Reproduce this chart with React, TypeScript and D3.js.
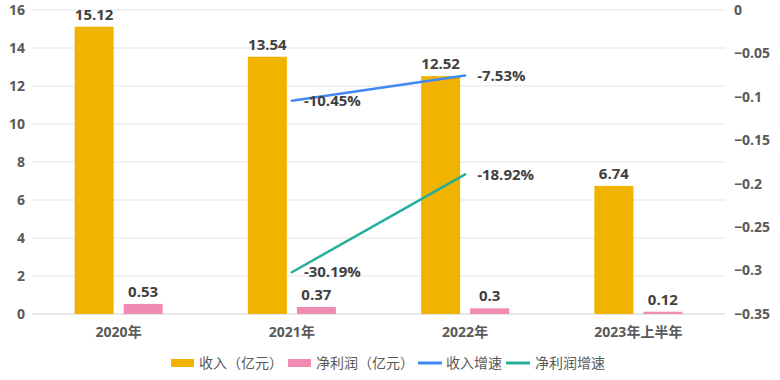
import React from "react";
import * as d3 from "d3";

const categories = ["2020年", "2021年", "2022年", "2023年上半年"];
const revenue = [15.12, 13.54, 12.52, 6.74];
const profit = [0.53, 0.37, 0.3, 0.12];
const revenueGrowth: (number | null)[] = [null, -0.1045, -0.0753, null];
const profitGrowth: (number | null)[] = [null, -0.3019, -0.1892, null];
const leftTicks = [0, 2, 4, 6, 8, 10, 12, 14, 16];
const rightTicks = [0, -0.05, -0.1, -0.15, -0.2, -0.25, -0.3, -0.35];

const W = 780, H = 380;
const M = { left: 32, right: 55, top: 10, bottom: 66 };
const FONT = "'Open Sans', 'Noto Sans CJK SC', sans-serif";
const C_REV = "#F0B400";
const C_PROF = "#F08CB4";
const C_RG = "#4189F5";
const C_PG = "#26AE9A";
const TXT = "#595959";
const LBL = "#404040";

export default function App() {
  const x = d3.scaleBand().domain(categories).range([M.left, W - M.right]);
  const yL = d3.scaleLinear().domain([0, 16]).range([H - M.bottom, M.top]);
  const yR = d3.scaleLinear().domain([-0.35, 0]).range([H - M.bottom, M.top]);
  const barW = 39;
  const gap = 10;
  const cx = (c: string) => (x(c) as number) + x.bandwidth() / 2;

  const lineGen = d3
    .line<[string, number | null]>()
    .defined((d) => d[1] !== null)
    .x((d) => cx(d[0]))
    .y((d) => yR(d[1] as number));

  const revPts = categories.map((c, i) => [c, revenueGrowth[i]] as [string, number | null]);
  const profPts = categories.map((c, i) => [c, profitGrowth[i]] as [string, number | null]);

  const legendY = 363;
  return (
    <svg width={W} height={H} style={{ position: "absolute", left: 0, top: 0 }} fontFamily={FONT}>
      <rect width={W} height={H} fill="#fff" />
      {leftTicks.map((t) => (
        <line key={t} x1={M.left} x2={W - M.right} y1={yL(t)} y2={yL(t)} stroke={t === 0 ? "#d0d0d0" : "#e3e3e3"} strokeWidth={1} />
      ))}
      {leftTicks.map((t) => (
        <text key={"l" + t} x={25} y={yL(t)} dy="0.35em" textAnchor="end" fontSize={14} fontWeight="bold" fill={TXT}>
          {t}
        </text>
      ))}
      {rightTicks.map((t) => (
        <text key={"r" + t} x={734} y={yR(t)} dy="0.35em" textAnchor="start" fontSize={14} fontWeight="bold" fill={TXT}>
          {d3.format("")(+t.toFixed(2))}
        </text>
      ))}
      {categories.map((c) => (
        <text key={"c" + c} x={cx(c)} y={H - M.bottom + 18} dy="0.35em" textAnchor="middle" fontSize={14} fontWeight="bold" fill={TXT}>
          {c}
        </text>
      ))}
      {categories.map((c, i) => {
        const x0 = cx(c) - gap / 2 - barW;
        const x1 = cx(c) + gap / 2;
        return (
          <g key={"b" + c}>
            <rect x={x0} y={yL(revenue[i])} width={barW} height={yL(0) - yL(revenue[i])} fill={C_REV} />
            <rect x={x1} y={yL(profit[i])} width={barW} height={yL(0) - yL(profit[i])} fill={C_PROF} />
            <text x={x0 + barW / 2} y={yL(revenue[i]) - 7} textAnchor="middle" fontSize={15} fontWeight="bold" fill={LBL}>
              {revenue[i]}
            </text>
            <text x={x1 + barW / 2} y={yL(profit[i]) - 7} textAnchor="middle" fontSize={15} fontWeight="bold" fill={LBL}>
              {profit[i]}
            </text>
          </g>
        );
      })}
      <path d={lineGen(revPts) || ""} fill="none" stroke={C_RG} strokeWidth={2.5} strokeLinecap="round" />
      <path d={lineGen(profPts) || ""} fill="none" stroke={C_PG} strokeWidth={2.5} strokeLinecap="round" />
      {revPts.map((d, i) =>
        d[1] === null ? null : (
          <text key={"rg" + i} x={cx(d[0]) + 12} y={yR(d[1])} dy="0.35em" fontSize={15} fontWeight="bold" fill={LBL}>
            {(d[1] * 100).toFixed(2) + "%"}
          </text>
        )
      )}
      {profPts.map((d, i) =>
        d[1] === null ? null : (
          <text key={"pg" + i} x={cx(d[0]) + 12} y={yR(d[1])} dy="0.35em" fontSize={15} fontWeight="bold" fill={LBL}>
            {(d[1] * 100).toFixed(2) + "%"}
          </text>
        )
      )}
      <g fontSize={14} fill={TXT}>
        <rect x={171} y={legendY - 4} width={23} height={8} fill={C_REV} />
        <text x={199} y={legendY} dy="0.35em">收入（亿元）</text>
        <rect x={288} y={legendY - 4} width={23} height={8} fill={C_PROF} />
        <text x={316} y={legendY} dy="0.35em">净利润（亿元）</text>
        <line x1={418} x2={442} y1={legendY} y2={legendY} stroke={C_RG} strokeWidth={3} />
        <text x={446} y={legendY} dy="0.35em">收入增速</text>
        <line x1={506} x2={530} y1={legendY} y2={legendY} stroke={C_PG} strokeWidth={3} />
        <text x={535} y={legendY} dy="0.35em">净利润增速</text>
      </g>
    </svg>
  );
}
